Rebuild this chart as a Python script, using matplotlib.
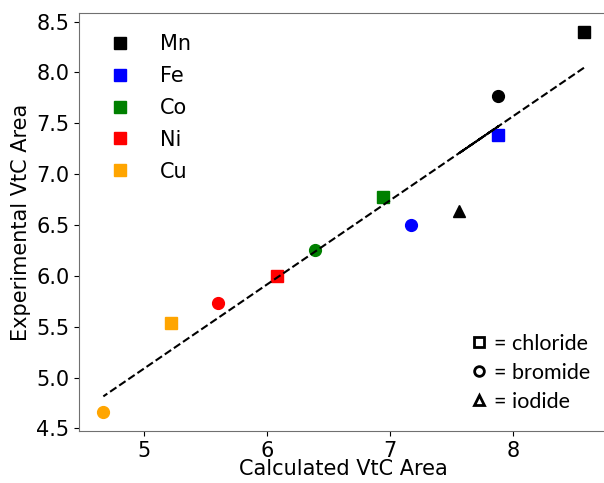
import numpy as np
import matplotlib.pyplot as plt
from matplotlib.lines import Line2D

# values, in the order Mn, Fe, Co, Ni, Cu
metals = ["Mn", "Fe", "Co", "Ni", "Cu"]
colors = ["black", "blue", "green", "red", "orange"]

# (halide, calculated, experimental)
mn_pts = [("chloride", 8.578, 8.395), ("bromide", 7.877, 7.771), ("iodide", 7.557, 6.641)]
fe_pts = [("chloride", 7.880, 7.380), ("bromide", 7.171, 6.503)]
co_pts = [("chloride", 6.940, 6.776), ("bromide", 6.391, 6.254)]
ni_pts = [("chloride", 6.079, 5.998), ("bromide", 5.603, 5.734)]
cu_pts = [("chloride", 5.215, 5.541), ("bromide", 4.666, 4.661)]

halides = ["chloride", "bromide", "iodide"]
halide_markers = {"chloride": "s", "bromide": "o", "iodide": "^"}

data = [mn_pts, fe_pts, co_pts, ni_pts, cu_pts]

fig = plt.figure(figsize=(6.04, 4.83), dpi=100)
ax = fig.add_axes([0.1313, 0.1077, 0.8753, 0.8648])

calc_all = []
exp_all = []
for pts, col in zip(data, colors):
    for halide, xc, ye in pts:
        ax.plot(xc, ye, linestyle="none", marker=halide_markers[halide],
                color=col, markersize=8.5)
        calc_all.append(xc)
        exp_all.append(ye)

# linear fit, drawn through the points in data order
calc_all = np.array(calc_all)
exp_all = np.array(exp_all)
m, b = np.polyfit(calc_all, exp_all, 1)
ax.plot(calc_all, m * calc_all + b, "k--", lw=1.5)

fs = 15
ax.set_xlabel("Calculated VtC Area", fontsize=fs, labelpad=-1)
ax.set_ylabel("Experimental VtC Area", fontsize=fs)
ax.tick_params(labelsize=fs)
ax.set_xticks([5, 6, 7, 8])
ax.set_yticks(np.arange(4.5, 8.51, 0.5))
for s in ax.spines.values():
    s.set_color("#707070")

metal_handles = [Line2D([], [], linestyle="none", marker="s", color=c, markersize=8.5)
                 for c in colors]
leg1 = ax.legend(metal_handles, metals, loc="upper left", frameon=False,
                 fontsize=fs, handletextpad=0.9, labelspacing=0.57,
                 bbox_to_anchor=(0.003, 0.995))
ax.add_artist(leg1)

halide_handles = [Line2D([], [], linestyle="none", marker=halide_markers[h],
                         markerfacecolor="white", markeredgecolor="black",
                         markeredgewidth=2, markersize=7) for h in halides]
ax.legend(halide_handles, ["= " + h for h in halides], loc="lower right",
          frameon=False, prop={"family": "Lato", "size": 15.5},
          handlelength=0.6, handletextpad=0.4, labelspacing=0.42,
          bbox_to_anchor=(1.004, 0.0))

fig.savefig("out.png", dpi=100)
